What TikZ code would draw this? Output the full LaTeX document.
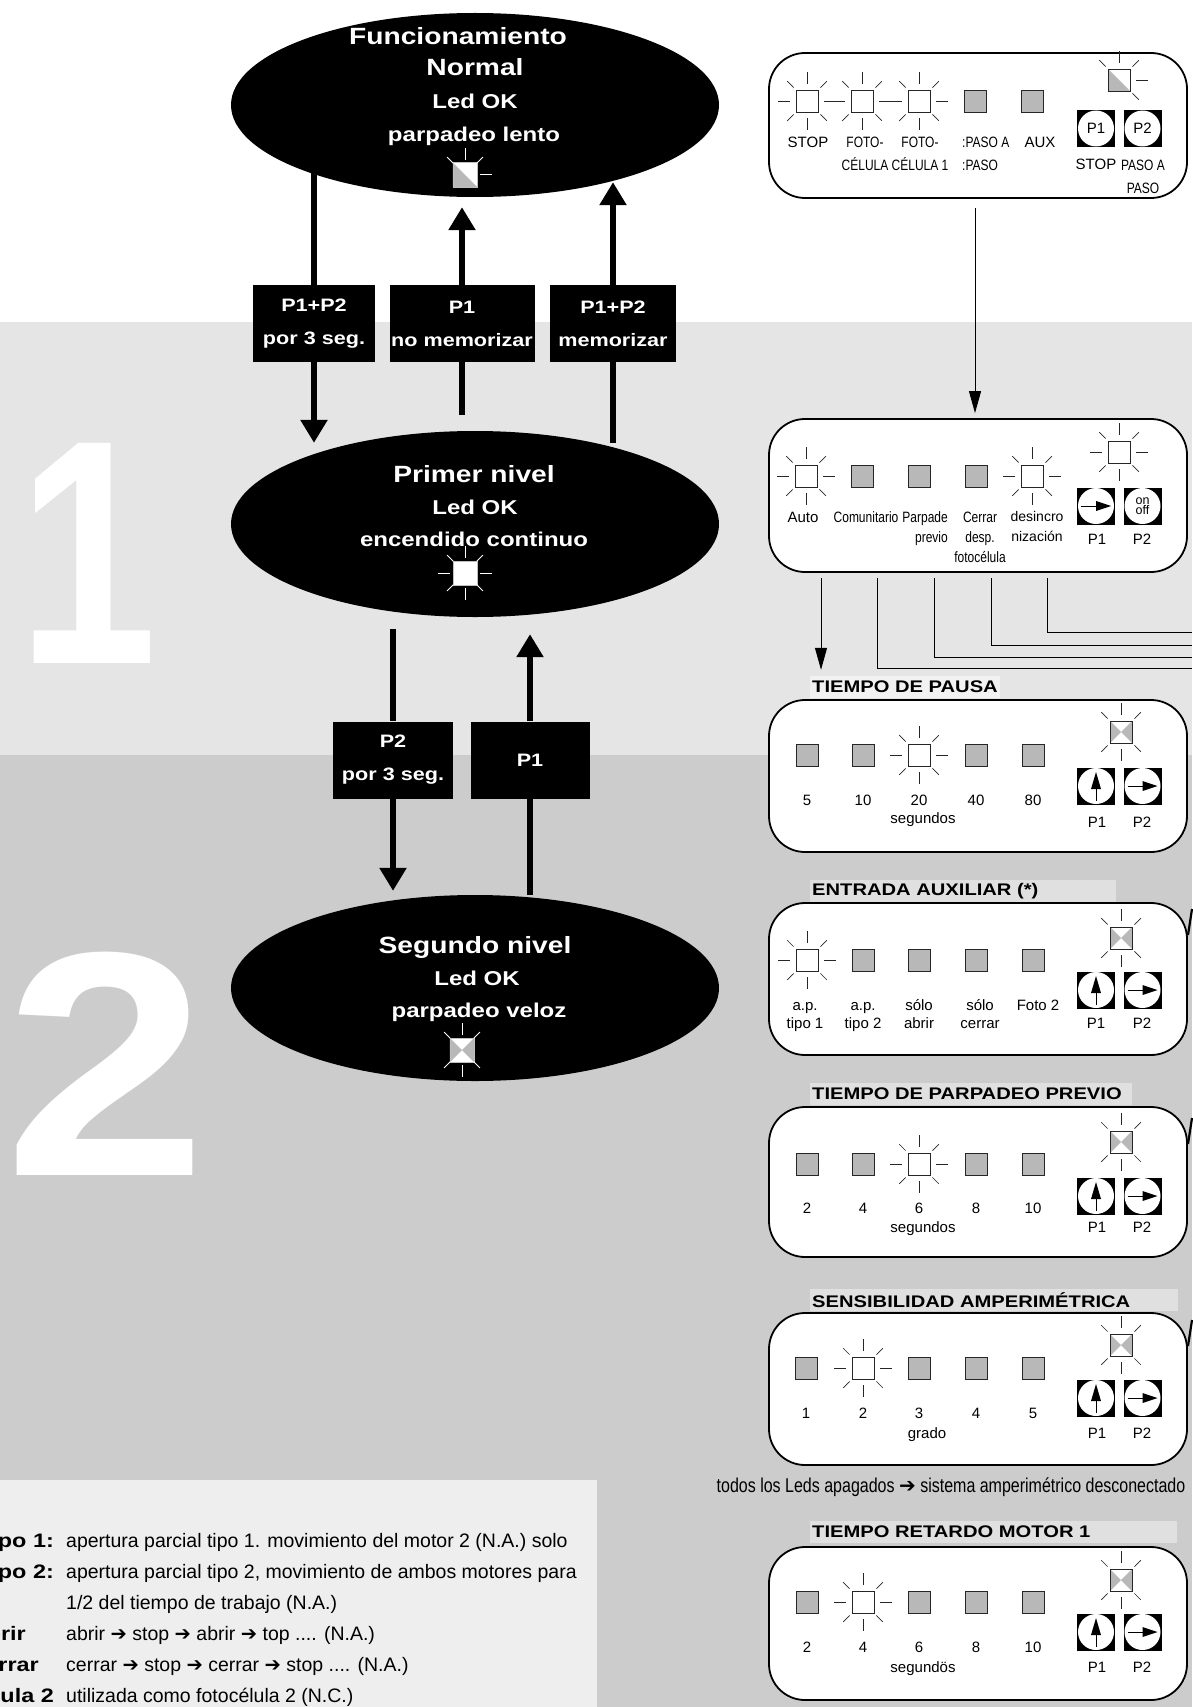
\documentclass[tikz,border=0pt]{standalone}
\usepackage{fontspec}
\setmainfont{Liberation Sans}
\newfontfamily\blackfont{Liberation Sans}[FakeStretch=1.2]
\newfontfamily\narrowfont{Liberation Sans}[FakeStretch=0.8]
\newfontfamily\symfont{DejaVu Sans}
\usepackage{tikz}
\usetikzlibrary{arrows.meta,positioning,shapes.geometric}
\definecolor{bandlight}{RGB}{229,229,229}
\definecolor{banddark}{RGB}{204,204,204}
\definecolor{notefill}{RGB}{238,238,238}
\definecolor{ledgrey}{RGB}{184,184,184}
\definecolor{titleband}{RGB}{224,224,224}
\definecolor{titlelight}{RGB}{242,242,242}
\newcommand{\ra}{{\symfont ➔}}
% ray lengths of a led
\newcommand{\rayin}{17}
\newcommand{\rayout}{29}
\newcommand{\diagin}{19}
\newcommand{\diagout}{28}

\begin{document}
\begin{tikzpicture}[x=1pt,y=-1pt,
    state/.style={ellipse,fill=black,minimum width=488pt,minimum height=186pt,inner sep=0pt},
    stbig/.style={text=white,inner sep=0pt,text height=16.8pt,text depth=0pt,font=\blackfont\bfseries\fontsize{23.5}{28}\selectfont},
    stsmall/.style={text=white,inner sep=0pt,text height=14.3pt,text depth=0pt,font=\blackfont\bfseries\fontsize{20}{24}\selectfont},
    keybox/.style={fill=black,text=white,align=center,inner sep=0pt,minimum height=77pt,font=\blackfont\bfseries\fontsize{18}{33}\selectfont},
    bigline/.style={line width=5.5pt},
    bigarr/.style={line width=5.5pt,-{Triangle[length=23pt,width=26pt]}},
    digit/.style={text=white,inner sep=0pt,anchor=base,font=\blackfont\bfseries\fontsize{320}{320}\selectfont},
    panel/.style={draw,line width=1.8pt,fill=white,rounded corners=36pt,minimum width=418pt,minimum height=152pt,inner sep=0pt},
    ptitle/.style={anchor=west,fill=titleband,inner xsep=2pt,inner ysep=0pt,minimum height=22pt,align=left,font=\blackfont\bfseries\fontsize{16.8}{20}\selectfont},
    lbl/.style={inner sep=0pt,text height=10.8pt,text depth=0pt,font=\fontsize{15}{20}\selectfont},
    mlbl/.style={inner sep=0pt,anchor=north,align=center,font=\fontsize{15}{20}\selectfont},
    nar/.style={font=\narrowfont\fontsize{15}{20}\selectfont},
    nartop/.style={font=\narrowfont\fontsize{15}{23}\selectfont},
    nlab/.style={anchor=east,inner sep=0pt,text height=14pt,text depth=0pt,font=\blackfont\bfseries\fontsize{19.5}{22}\selectfont},
    ntxt/.style={anchor=west,inner sep=0pt,text height=14pt,text depth=0pt,font=\fontsize{19.5}{22}\selectfont},
    ledbd/.style={draw=black!85,line width=0.8pt},
    ledray/.style={black!85,line width=0.7pt},
    wire/.style={line width=1pt},
    thinarr/.style={line width=1pt,-{Triangle[length=22pt,width=12pt]}},
    ledoff/.pic={\draw[ledbd,fill=ledgrey] (-11,-11) rectangle (11,11);},
    ledon/.pic={\draw[ledbd,fill=white] (-11,-11) rectangle (11,11);
      \foreach \a in {0,90,180,270} \draw[ledray] (\a:\rayin) -- (\a:\rayout);
      \foreach \a in {45,135,225,315} \draw[ledray] (\a:\diagin) -- (\a:\diagout);},
    ledhalf/.pic={\fill[white] (-11,-11) rectangle (11,11);
      \fill[ledgrey] (-11,-11) -- (-11,11) -- (11,11) -- cycle;
      \draw[ledbd] (-11,-11) rectangle (11,11);
      \foreach \a in {0,270} \draw[ledray] (\a:\rayin) -- (\a:\rayout);
      \foreach \a in {225,315} \draw[ledray] (\a:\diagin) -- (\a:\diagout);},
    ledx/.pic={\fill[white] (-11,-11) rectangle (11,11);
      \fill[ledgrey] (-11,-11) -- (0,0) -- (-11,11) -- cycle (11,-11) -- (0,0) -- (11,11) -- cycle;
      \draw[ledbd] (-11,-11) rectangle (11,11);
      \foreach \a in {90,270} \draw[ledray] (\a:\rayin) -- (\a:\rayout);
      \foreach \a in {45,135,225,315} \draw[ledray] (\a:\diagin) -- (\a:\diagout);},
    pbtn/.pic={\fill[black] (-19,-18.5) rectangle (19,18.5); \fill[white] (0,0) circle (18);},
    upbtn/.pic={\pic{pbtn}; \draw[line width=0.9pt] (0,2) -- (0,15); \fill (0,-14) -- (-5,3) -- (5,3) -- cycle;},
    rightbtn/.pic={\pic{pbtn}; \draw[line width=0.9pt] (-15,0) -- (1,0); \fill (15,0) -- (0,-5) -- (0,5) -- cycle;}]

  % background bands
  \useasboundingbox (0,0) rectangle (1192,1707);
  \fill[white] (0,0) rectangle (1192,322);
  \fill[bandlight] (0,322) rectangle (1192,755);
  \fill[banddark] (0,755) rectangle (1192,1707);
  \fill[notefill] (0,1480) rectangle (597,1707);
  \node[digit] (one) at (88,663) {\scalebox{0.65}[1]{1}};
  \node[digit] (two) at (106,1175) {\scalebox{0.95}[1]{2}};

  % the three states
  \node[state,minimum height=184pt] (normal) at (475,105) {};
  \node[state] (first) at (475,524) {};
  \node[state] (second) at (475,988) {};
  \node[stbig] (nt1) at (458,36) {Funcionamiento};
  \node[stbig] (nt2) at (475,67) {Normal};
  \node[stsmall] (nt3) at (475,101) {Led OK};
  \node[stsmall] (nt4) at (474,134) {parpadeo lento};
  \node[stbig] (ft1) at (474,474) {Primer nivel};
  \node[stsmall] (ft2) at (475,507) {Led OK};
  \node[stsmall] (ft3) at (474,539) {encendido continuo};
  \node[stbig] (st1) at (475,945) {Segundo nivel};
  \node[stsmall] (st2) at (477,978) {Led OK};
  \node[stsmall] (st3) at (479,1010) {parpadeo veloz};
  \begin{scope}[ledray/.style={white,line width=1pt},ledbd/.style={draw=white!75!black,line width=0.8pt}]
    \renewcommand{\rayin}{13.5}\renewcommand{\rayout}{24.5}
    \renewcommand{\diagin}{15}\renewcommand{\diagout}{23}
    \pic[scale=1.1] at (465,175) {ledhalf};
    \pic[scale=1.1] at (465,573) {ledon};
    \pic[scale=1.1] at (462,1050) {ledx};
  \end{scope}

  % key combinations
  \node[keybox,minimum width=122pt] (kA) at (314,323.5) {P1+P2\\por 3 seg.};
  \node[keybox,minimum width=145pt] (kB) at (462,323.5) {P1\\no memorizar};
  \node[keybox,minimum width=126pt] (kC) at (613,323.5) {P1+P2\\memorizar};
  \node[keybox,minimum width=120pt] (kD) at (393,760) {P2\\por 3 seg.};
  \node[keybox,minimum width=119pt] (kE) at (530,760) {P1};
  \draw[bigline] (normal -| kA) -- (kA);
  \draw[bigarr] (kA) -- ([yshift=-12pt]first.north -| kA);
  \draw[bigline] ([yshift=16pt]first.north -| kB) -- (kB);
  \draw[bigarr] (kB) -- ([yshift=-10pt]normal.south -| kB);
  \draw[bigline] ([yshift=-12pt]first.north -| kC) -- (kC);
  \draw[bigarr] (kC) -- ([yshift=15pt]normal.south -| kC);
  \draw[bigline] ([yshift=-12pt]first.south -| kD) -- (kD);
  \draw[bigarr] (kD) -- ([yshift=4pt]second.north -| kD);
  \draw[bigline] (second.north -| kE) -- (kE);
  \draw[bigarr] (kE) -- ([yshift=-17pt]first.south -| kE);

  % panel: funcionamiento normal
  \node[panel,minimum height=145pt] (pnorm) at (978,125.5) {};
  \foreach \x in {807,862,919} \pic at (\x,101) {ledon};
  \foreach \x in {975,1032} \pic at (\x,101) {ledoff};
  \pic at (1119,80) {ledhalf};
  \draw[ledray] (1119,80) ++(45:19) -- ++(45:9);
  \pic at (1096,128.5) {pbtn};
  \pic at (1142.5,128.5) {pbtn};
  \node[lbl] (bp1) at (1096,128.5) {P1};
  \node[lbl] (bp2) at (1142.5,128.5) {P2};
  \node[lbl] (lstop) at (808,142) {STOP};
  \node[mlbl,nartop] (lfoto) at (865,136.5) {FOTO-\\CÉLULA};
  \node[mlbl,nartop] (lfoto1) at (920,136.5) {FOTO-\\CÉLULA 1};
  \node[mlbl,nartop,anchor=north west,align=left] (lpaso) at (962,136.5) {:PASO A\\:PASO};
  \node[lbl] (laux) at (1040,142) {AUX};
  \node[lbl] (lp1) at (1096,164) {STOP};
  \node[mlbl,nartop] (lp2) at (1143,159.5) {PASO A\\PASO};

  % panel: primer nivel
  \node[panel,minimum height=153pt] (pprog) at (978,495.5) {};
  \foreach \x in {806,1032} \pic at (\x,476) {ledon};
  \foreach \x in {862,919,976} \pic at (\x,476) {ledoff};
  \pic at (1119,452) {ledon};
  \pic at (1096,506) {rightbtn};
  \pic at (1142.5,506) {pbtn};
  \node[inner sep=0pt,align=center,font=\fontsize{12.5}{10}\selectfont] (onoff) at (1142.5,506) {on\\off};
  \node[lbl] (lauto) at (803,517) {Auto};
  \node[lbl,nar] (lcom) at (866,517) {Comunitario};
  \node[mlbl,nar,anchor=north east,align=right] (lparp) at (948,511.5) {Parpade\\previo};
  \node[mlbl,nar] (lcerr) at (980,511.5) {Cerrar\\desp.\\fotocélula};
  \node[mlbl,font=\fontsize{14}{20}\selectfont] (ldes) at (1037,511.5) {desincro\\nización};
  \node[lbl] (lpp1) at (1097,539) {P1};
  \node[lbl] (lpp2) at (1142,539) {P2};

  \coordinate (linkx) at (975,0);
  \draw[thinarr,shorten <=9pt,shorten >=5pt] (pnorm.south -| linkx) -- (pprog.north -| linkx);

  % panel: tiempo de pausa
  \node[ptitle,fill=titlelight,text width=186pt] (tpausa) at (810,687) {TIEMPO DE PAUSA};
  \node[panel] (ppausa) at (978,776) {};
  \foreach \x in {807,863,976,1033} \pic at (\x,755) {ledoff};
  \pic at (919,755) {ledon};
  \pic at (1121,732) {ledx};
  \pic at (1096,786) {upbtn};
  \pic at (1142.5,786) {rightbtn};
  \foreach \x/\t in {807/5,863/10,919/20,976/40,1033/80} \node[lbl] (pa\t) at (\x,800) {\t};
  \node[lbl] (pseg) at (923,818) {segundos};
  \node[lbl] (pap1) at (1097,822) {P1};
  \node[lbl] (pap2) at (1142,822) {P2};

  % links from primer nivel
  \coordinate (wauto) at (821,0);
  \coordinate (wcom) at (877,0);
  \coordinate (wpar) at (934,0);
  \coordinate (wcer) at (991,0);
  \coordinate (wdes) at (1047,0);
  \coordinate (ecom) at (1192,668);
  \coordinate (epar) at (1192,657);
  \coordinate (ecer) at (1192,645);
  \coordinate (edes) at (1192,632);
  \draw[thinarr,shorten <=5pt,shorten >=6pt] (pprog.south -| wauto) -- (tpausa.north -| wauto);
  \draw[wire,shorten <=5pt] (pprog.south -| wcom) |- (ecom);
  \draw[wire,shorten <=5pt] (pprog.south -| wpar) |- (epar);
  \draw[wire,shorten <=5pt] (pprog.south -| wcer) |- (ecer);
  \draw[wire,shorten <=5pt] (pprog.south -| wdes) |- (edes);

  % panel: entrada auxiliar
  \node[ptitle,text width=302pt] (taux) at (810,891) {ENTRADA AUXILIAR (*)};
  \node[panel] (paux) at (978,979) {};
  \pic at (807,960) {ledon};
  \foreach \x in {863,919,976,1033} \pic at (\x,960) {ledoff};
  \pic at (1121,938) {ledx};
  \pic at (1096,990) {upbtn};
  \pic at (1142.5,990) {rightbtn};
  \foreach \x/\a/\b [count=\i] in {805/a.p./tipo 1,863/a.p./tipo 2,919/sólo/abrir,980/sólo/cerrar} {
    \node[lbl] (ea\i) at (\x,1005) {\a};
    \node[lbl] (eb\i) at (\x,1023) {\b};}
  \node[lbl] (ef2) at (1038,1005) {Foto 2};
  \node[lbl] (eap1) at (1096,1023) {P1};
  \node[lbl] (eap2) at (1142,1023) {P2};

  % panel: tiempo de parpadeo previo
  \node[ptitle,text width=318pt] (tparp) at (810,1094) {TIEMPO DE PARPADEO PREVIO};
  \node[panel,minimum height=150pt] (pparp) at (978,1182) {};
  \foreach \x in {807,863,976,1033} \pic at (\x,1164) {ledoff};
  \pic at (919,1164) {ledon};
  \pic at (1121,1142) {ledx};
  \pic at (1096,1196) {upbtn};
  \pic at (1142.5,1196) {rightbtn};
  \foreach \x/\t in {807/2,863/4,919/6,976/8,1033/10} \node[lbl] (pp\t) at (\x,1208) {\t};
  \node[lbl] (ppseg) at (923,1227) {segundos};
  \node[lbl] (ppp1) at (1097,1227) {P1};
  \node[lbl] (ppp2) at (1142,1227) {P2};

  % panel: sensibilidad amperimetrica
  \node[ptitle,text width=364pt] (tsens) at (810,1300) {SENSIBILIDAD AMPERIMÉTRICA};
  \node[panel] (psens) at (978,1389) {};
  \foreach \x in {806,919,976,1033} \pic at (\x,1368) {ledoff};
  \pic at (863,1368) {ledon};
  \pic at (1121,1345) {ledx};
  \pic at (1096,1398) {upbtn};
  \pic at (1142.5,1398) {rightbtn};
  \foreach \x/\t in {806/1,863/2,919/3,976/4,1033/5} \node[lbl] (sg\t) at (\x,1413) {\t};
  \node[lbl] (sgrado) at (927,1433) {grado};
  \node[lbl] (sp1) at (1097,1433) {P1};
  \node[lbl] (sp2) at (1142,1433) {P2};
  \node[inner sep=0pt,font=\narrowfont\fontsize{20}{22}\selectfont] (alloff) at (951,1487) {todos los Leds apagados \ra{} sistema amperimétrico desconectado};

  % panel: tiempo retardo motor 1
  \node[ptitle,text width=363pt] (tret) at (810,1532) {TIEMPO RETARDO MOTOR 1};
  \node[panel,minimum height=153pt] (pret) at (978,1623.5) {};
  \foreach \x in {807,919,976,1033} \pic at (\x,1602) {ledoff};
  \pic at (863,1602) {ledon};
  \pic at (1121,1580) {ledx};
  \pic at (1096,1632) {upbtn};
  \pic at (1142.5,1632) {rightbtn};
  \foreach \x/\t in {807/2,863/4,919/6,976/8,1033/10} \node[lbl] (rt\t) at (\x,1647) {\t};
  \node[lbl] (rtseg) at (923,1667) {segundös};
  \node[lbl] (rtp1) at (1097,1667) {P1};
  \node[lbl] (rtp2) at (1142,1667) {P2};

  % marks at the right edge
  \foreach \y in {909,1118,1320} \draw[line width=2.2pt] (1188,\y+26) -- (1192,\y);

  % notes
  \node[nlab] (n1l) at (54,1540) {a.p. tipo 1:};
  \node[ntxt] (n1t) at (66,1540) {apertura parcial tipo 1. movimiento del motor 2 (N.A.) solo};
  \node[nlab] (n2l) at (54,1571) {a.p. tipo 2:};
  \node[ntxt] (n2t) at (66,1571) {apertura parcial tipo 2, movimiento de ambos motores para};
  \node[ntxt] (n3t) at (66,1602) {1/2 del tiempo de trabajo (N.A.)};
  \node[nlab] (n4l) at (26,1633) {sólo abrir};
  \node[ntxt] (n4t) at (66,1633) {abrir \ra{} stop \ra{} abrir \ra{} top .... (N.A.)};
  \node[nlab] (n5l) at (39,1664) {sólo cerrar};
  \node[ntxt] (n5t) at (66,1664) {cerrar \ra{} stop \ra{} cerrar \ra{} stop .... (N.A.)};
  \node[nlab] (n6l) at (54,1695) {Fotocélula 2};
  \node[ntxt] (n6t) at (66,1695) {utilizada como fotocélula 2 (N.C.)};
\end{tikzpicture}
\end{document}
